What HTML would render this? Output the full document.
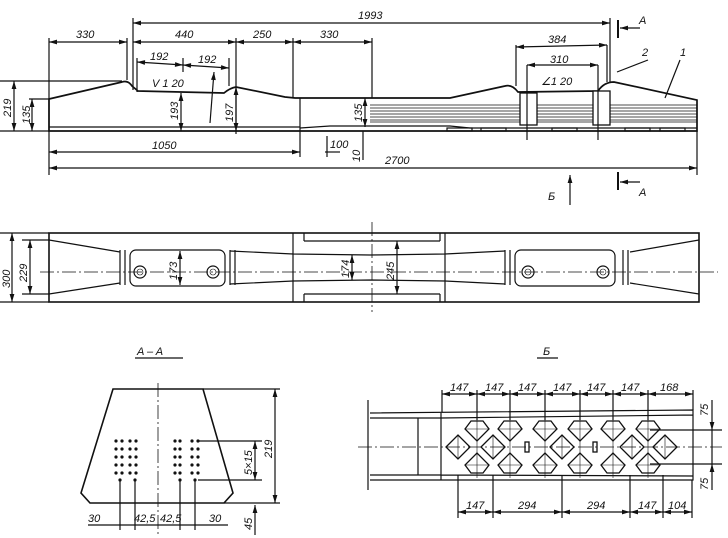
<!DOCTYPE html>
<html><head><meta charset="utf-8"><style>
body{margin:0;background:#fff}
svg{display:block}
text{font-family:"Liberation Sans",sans-serif;font-style:italic;font-size:11px;fill:#111}
</style></head><body>
<svg width="728" height="538" viewBox="0 0 728 538" xmlns="http://www.w3.org/2000/svg">
<defs>
<marker id="a" viewBox="0 0 10 6" refX="10" refY="3" markerWidth="8" markerHeight="4" orient="auto-start-reverse"><path d="M0,0L10,3L0,6z" fill="#111"/></marker>
</defs>
<g stroke="#111" fill="none" stroke-width="1.2">
<!-- ELEVATION -->
<path stroke-width="1.7" d="M49,99 L122,82 Q128,80 132,86 L138,91 L224,93 Q230,88 236,87 L285,97 L295,98 L450,98 L505,86 Q512,84 518,92 L598,91 Q604,82 614,82 L697,100 L697,131 L49,131 Z"/>
<line x1="49" y1="127" x2="300" y2="127"/>
<path d="M300,128 L330,126 L450,126 L470,128 L697,128"/>
<g stroke-width="0.8">
<line x1="370" y1="105" x2="697" y2="105"/><line x1="370" y1="108" x2="697" y2="108"/><line x1="370" y1="111" x2="697" y2="111"/><line x1="370" y1="114" x2="697" y2="114"/><line x1="370" y1="117" x2="697" y2="117"/><line x1="370" y1="120" x2="697" y2="120"/><line x1="370" y1="122" x2="697" y2="122"/>
</g>
<rect x="447" y="128" width="25" height="3"/><rect x="481" y="128" width="25" height="3"/><rect x="552" y="128" width="25" height="3"/><rect x="625" y="128" width="25" height="3"/><rect x="660" y="128" width="25" height="3"/>
<rect x="520" y="93" width="17" height="32" fill="#fff" stroke-width="1.3"/><rect x="593" y="91" width="17" height="34" fill="#fff" stroke-width="1.3"/>
<line x1="527" y1="65" x2="527" y2="140"/><line x1="598" y1="65" x2="598" y2="140"/>
<line x1="516" y1="45" x2="516" y2="86"/><line x1="607" y1="45" x2="607" y2="82"/>
<line x1="49" y1="38" x2="49" y2="175"/><line x1="127" y1="38" x2="127" y2="80"/><line x1="133" y1="18" x2="133" y2="90"/>
<line x1="236" y1="38" x2="236" y2="134"/><line x1="293" y1="38" x2="293" y2="97"/><line x1="372" y1="38" x2="372" y2="98"/>
<line x1="300" y1="98" x2="300" y2="157"/><line x1="697" y1="131" x2="697" y2="175"/><line x1="610" y1="18" x2="610" y2="82"/>
<line x1="0" y1="81" x2="122" y2="81"/><line x1="29" y1="99" x2="49" y2="99"/><line x1="0" y1="131" x2="49" y2="131"/>
<line x1="137" y1="58" x2="137" y2="92"/><line x1="229" y1="58" x2="229" y2="86"/>
<g marker-start="url(#a)" marker-end="url(#a)">
<line x1="133" y1="23" x2="610" y2="23"/>
<line x1="49" y1="42" x2="127" y2="42"/><line x1="133" y1="42" x2="236" y2="42"/><line x1="236" y1="42" x2="293" y2="42"/><line x1="293" y1="42" x2="372" y2="42"/>
<line x1="137" y1="62" x2="183" y2="65"/><line x1="183" y1="65" x2="229" y2="68"/>
<line x1="516" y1="47" x2="607" y2="45"/><line x1="527" y1="65" x2="598" y2="65"/>
<line x1="49" y1="152" x2="300" y2="152"/><line x1="49" y1="168" x2="697" y2="168"/>
<line x1="14" y1="81" x2="14" y2="131"/><line x1="32" y1="99" x2="32" y2="131"/>
<line x1="181" y1="93" x2="181" y2="131"/><line x1="236" y1="87" x2="236" y2="131"/><line x1="365" y1="98" x2="365" y2="127"/>
</g>
<line x1="183" y1="58" x2="183" y2="72"/>
<line x1="210" y1="123" x2="214" y2="72" marker-end="url(#a)"/>
<line x1="325" y1="152" x2="340" y2="152"/><line x1="327" y1="136" x2="327" y2="157"/>
<line x1="363" y1="131" x2="363" y2="160"/>
<line x1="617" y1="72" x2="648" y2="60"/><line x1="665" y1="98" x2="680" y2="60"/>
<line x1="618" y1="20" x2="618" y2="38" stroke-width="2"/><line x1="640" y1="28" x2="620" y2="28" marker-end="url(#a)"/>
<line x1="618" y1="172" x2="618" y2="190" stroke-width="2"/><line x1="640" y1="182" x2="620" y2="182" marker-end="url(#a)"/>
<line x1="570" y1="205" x2="570" y2="175" marker-end="url(#a)"/>
<!-- PLAN -->
<rect x="49" y="233" width="650" height="69" stroke-width="1.6"/>
<path d="M49,240 L120,252 M49,294 L120,283 M699,240 L630,252 M699,294 L630,283"/>
<path d="M230,251 L293,254 L370,255 L445,254 L505,251 M230,284 L293,281 L370,280 L445,281 L505,284"/>
<path d="M293,233 L293,302 M445,233 L445,302 M230,250 L230,285 M235,250 L235,285 M505,250 L505,285 M510,250 L510,285 M120,250 L120,285 M125,250 L125,285 M623,250 L623,285 M628,250 L628,285"/>
<path d="M304,233 L304,241 M304,294 L304,302 M440,233 L440,241 M440,294 L440,302 M304,241 L440,241 M304,294 L440,294"/>
<rect x="130" y="250" width="95" height="36" rx="6"/><rect x="515" y="250" width="100" height="36" rx="6"/>
<g stroke-width="1.2"><circle cx="140" cy="272" r="6"/><circle cx="213" cy="272" r="6"/><circle cx="528" cy="272" r="6"/><circle cx="603" cy="272" r="6"/></g>
<g stroke-width="0.6"><circle cx="140" cy="272" r="3"/><circle cx="213" cy="272" r="3"/><circle cx="528" cy="272" r="3"/><circle cx="603" cy="272" r="3"/></g>
<line x1="40" y1="272" x2="718" y2="272" stroke-dasharray="14,3,2,3" stroke-width="0.8"/>
<line x1="372" y1="222" x2="372" y2="312" stroke-dasharray="14,3,2,3" stroke-width="0.8"/>
<line x1="0" y1="233" x2="49" y2="233"/><line x1="0" y1="302" x2="49" y2="302"/><line x1="22" y1="240" x2="49" y2="240"/><line x1="22" y1="294" x2="49" y2="294"/>
<g marker-start="url(#a)" marker-end="url(#a)">
<line x1="12" y1="233" x2="12" y2="302"/><line x1="30" y1="240" x2="30" y2="294"/>
<line x1="180" y1="251" x2="180" y2="285"/><line x1="352" y1="255" x2="352" y2="280"/><line x1="397" y1="241" x2="397" y2="294"/>
</g>
<!-- A-A -->
<line x1="135" y1="358" x2="183" y2="358"/>
<path stroke-width="1.6" d="M113,389 L203,389 L233,493 L224,503 L90,503 L81,493 Z"/>
<line x1="158" y1="383" x2="158" y2="535" stroke-dasharray="14,3,2,3" stroke-width="0.8"/>
<line x1="203" y1="389" x2="280" y2="389"/><line x1="224" y1="503" x2="280" y2="503"/>
<line x1="198" y1="441" x2="262" y2="441"/><line x1="198" y1="480" x2="262" y2="480"/>
<line x1="120" y1="480" x2="120" y2="530"/><line x1="135" y1="480" x2="135" y2="530"/><line x1="180" y1="480" x2="180" y2="530"/><line x1="195" y1="480" x2="195" y2="530"/>
<line x1="88" y1="525" x2="228" y2="525"/>
<g marker-start="url(#a)" marker-end="url(#a)"><line x1="275" y1="389" x2="275" y2="503"/><line x1="255" y1="441" x2="255" y2="480"/></g>
<line x1="255" y1="535" x2="255" y2="505" marker-end="url(#a)"/>
<!-- Б view -->
<line x1="537" y1="358" x2="558" y2="358"/>
<path d="M370,413 L693,410 L693,480 L370,480 M370,418 L441,418 L693,415 M370,475 L441,475 L693,476 M441,412 L441,480 M418,418 L418,475"/>
<line x1="368" y1="400" x2="368" y2="490"/>
<line x1="358" y1="447" x2="722" y2="447" stroke-dasharray="14,3,2,3" stroke-width="0.8"/>
<g stroke-width="1.3">
<path d="M465,429 l6,-8 h12 l6,8 l-12,12 z M498,429 l6,-8 h12 l6,8 l-12,12 z M533,429 l6,-8 h12 l6,8 l-12,12 z M568,429 l6,-8 h12 l6,8 l-12,12 z M601,429 l6,-8 h12 l6,8 l-12,12 z M636,429 l6,-8 h12 l6,8 l-12,12 z"/>
<path d="M465,465 l6,8 h12 l6,-8 l-12,-12 z M498,465 l6,8 h12 l6,-8 l-12,-12 z M533,465 l6,8 h12 l6,-8 l-12,-12 z M568,465 l6,8 h12 l6,-8 l-12,-12 z M601,465 l6,8 h12 l6,-8 l-12,-12 z M636,465 l6,8 h12 l6,-8 l-12,-12 z"/>
<path d="M446,447 l12,-12 l12,12 l-12,12 z M481,447 l12,-12 l12,12 l-12,12 z M550,447 l12,-12 l12,12 l-12,12 z M620,447 l12,-12 l12,12 l-12,12 z M653,447 l12,-12 l12,12 l-12,12 z"/>
<rect x="525" y="442" width="4" height="10"/><rect x="593" y="442" width="4" height="10"/>
</g>
<g stroke-width="0.6">
<path d="M477,418 V478 M510,418 V478 M545,418 V478 M580,418 V478 M613,418 V478 M648,418 V478 M458,435 V459 M493,435 V459 M562,435 V459 M632,435 V459 M665,435 V459"/>
<path d="M465,429 H489 M498,429 H522 M533,429 H557 M568,429 H592 M601,429 H625 M636,429 H660 M465,465 H489 M498,465 H522 M533,465 H557 M568,465 H592 M601,465 H625 M636,465 H660"/>
</g>
<path d="M442,390 V412 M477,390 V420 M510,390 V420 M545,390 V420 M580,390 V420 M613,390 V420 M648,390 V420 M693,390 V410"/>
<path d="M458,475 V518 M493,475 V518 M562,475 V518 M630,475 V518 M663,475 V518 M692,480 V518"/>
<g marker-start="url(#a)" marker-end="url(#a)">
<line x1="442" y1="394" x2="477" y2="394"/><line x1="477" y1="394" x2="510" y2="394"/><line x1="510" y1="394" x2="545" y2="394"/><line x1="545" y1="394" x2="580" y2="394"/><line x1="580" y1="394" x2="613" y2="394"/><line x1="613" y1="394" x2="648" y2="394"/><line x1="648" y1="394" x2="693" y2="394"/>
<line x1="458" y1="512" x2="493" y2="512"/><line x1="493" y1="512" x2="562" y2="512"/><line x1="562" y1="512" x2="630" y2="512"/><line x1="630" y1="512" x2="663" y2="512"/><line x1="663" y1="512" x2="692" y2="512"/>
</g>
<line x1="650" y1="430" x2="722" y2="430"/><line x1="650" y1="464" x2="722" y2="464"/>
<line x1="712" y1="400" x2="712" y2="430" marker-end="url(#a)"/><line x1="712" y1="490" x2="712" y2="464" marker-end="url(#a)"/>
<line x1="712" y1="430" x2="712" y2="464"/>
</g>
<g fill="#111">
<circle cx="116" cy="441" r="1.6"/><circle cx="122" cy="441" r="1.6"/><circle cx="130" cy="441" r="1.6"/><circle cx="136" cy="441" r="1.6"/>
<circle cx="116" cy="449" r="1.6"/><circle cx="122" cy="449" r="1.6"/><circle cx="130" cy="449" r="1.6"/><circle cx="136" cy="449" r="1.6"/>
<circle cx="116" cy="457" r="1.6"/><circle cx="122" cy="457" r="1.6"/><circle cx="130" cy="457" r="1.6"/><circle cx="136" cy="457" r="1.6"/>
<circle cx="116" cy="465" r="1.6"/><circle cx="122" cy="465" r="1.6"/><circle cx="130" cy="465" r="1.6"/><circle cx="136" cy="465" r="1.6"/>
<circle cx="116" cy="473" r="1.6"/><circle cx="122" cy="473" r="1.6"/><circle cx="130" cy="473" r="1.6"/><circle cx="136" cy="473" r="1.6"/>
<circle cx="175" cy="441" r="1.6"/><circle cx="180" cy="441" r="1.6"/><circle cx="192" cy="441" r="1.6"/><circle cx="198" cy="441" r="1.6"/>
<circle cx="175" cy="449" r="1.6"/><circle cx="180" cy="449" r="1.6"/><circle cx="192" cy="449" r="1.6"/><circle cx="198" cy="449" r="1.6"/>
<circle cx="175" cy="457" r="1.6"/><circle cx="180" cy="457" r="1.6"/><circle cx="192" cy="457" r="1.6"/><circle cx="198" cy="457" r="1.6"/>
<circle cx="175" cy="465" r="1.6"/><circle cx="180" cy="465" r="1.6"/><circle cx="192" cy="465" r="1.6"/><circle cx="198" cy="465" r="1.6"/>
<circle cx="175" cy="473" r="1.6"/><circle cx="180" cy="473" r="1.6"/><circle cx="192" cy="473" r="1.6"/><circle cx="198" cy="473" r="1.6"/>
<circle cx="120" cy="480" r="1.6"/><circle cx="135" cy="480" r="1.6"/><circle cx="180" cy="480" r="1.6"/><circle cx="195" cy="480" r="1.6"/>
</g>
<text x="358" y="19">1993</text>
<text x="76" y="38">330</text><text x="175" y="38">440</text><text x="253" y="38">250</text><text x="320" y="38">330</text>
<text x="150" y="60">192</text><text x="198" y="63">192</text>
<text x="152" y="87">V 1 20</text>
<text x="548" y="43">384</text><text x="550" y="63">310</text><text x="541" y="85">∠1 20</text>
<text x="642" y="56">2</text><text x="680" y="56">1</text>
<text x="639" y="24">A</text><text x="639" y="196">A</text><text x="548" y="200">Б</text>
<text x="152" y="149">1050</text><text x="385" y="164">2700</text><text x="330" y="148">100</text>
<g font-size="11">
<text transform="translate(11,117) rotate(-90)">219</text>
<text transform="translate(30,124) rotate(-90)">135</text>
<text transform="translate(178,120) rotate(-90)">193</text>
<text transform="translate(233,122) rotate(-90)">197</text>
<text transform="translate(362,122) rotate(-90)">135</text>
<text transform="translate(360,162) rotate(-90)">10</text>
<text transform="translate(10,288) rotate(-90)">300</text>
<text transform="translate(27,282) rotate(-90)">229</text>
<text transform="translate(177,280) rotate(-90)">173</text>
<text transform="translate(349,278) rotate(-90)">174</text>
<text transform="translate(394,280) rotate(-90)">245</text>
<text transform="translate(272,458) rotate(-90)">219</text>
<text transform="translate(252,475) rotate(-90)">5×15</text>
<text transform="translate(252,530) rotate(-90)">45</text>
<text transform="translate(708,416) rotate(-90)">75</text>
<text transform="translate(708,490) rotate(-90)">75</text>
</g>
<text x="137" y="355">A – A</text><text x="543" y="355">Б</text>
<text x="88" y="522">30</text><text x="134" y="522">42,5</text><text x="160" y="522">42,5</text><text x="209" y="522">30</text>
<text x="450" y="391">147</text><text x="485" y="391">147</text><text x="518" y="391">147</text><text x="553" y="391">147</text><text x="587" y="391">147</text><text x="621" y="391">147</text><text x="660" y="391">168</text>
<text x="466" y="509">147</text><text x="518" y="509">294</text><text x="587" y="509">294</text><text x="638" y="509">147</text><text x="668" y="509">104</text>
</svg>
</body></html>
